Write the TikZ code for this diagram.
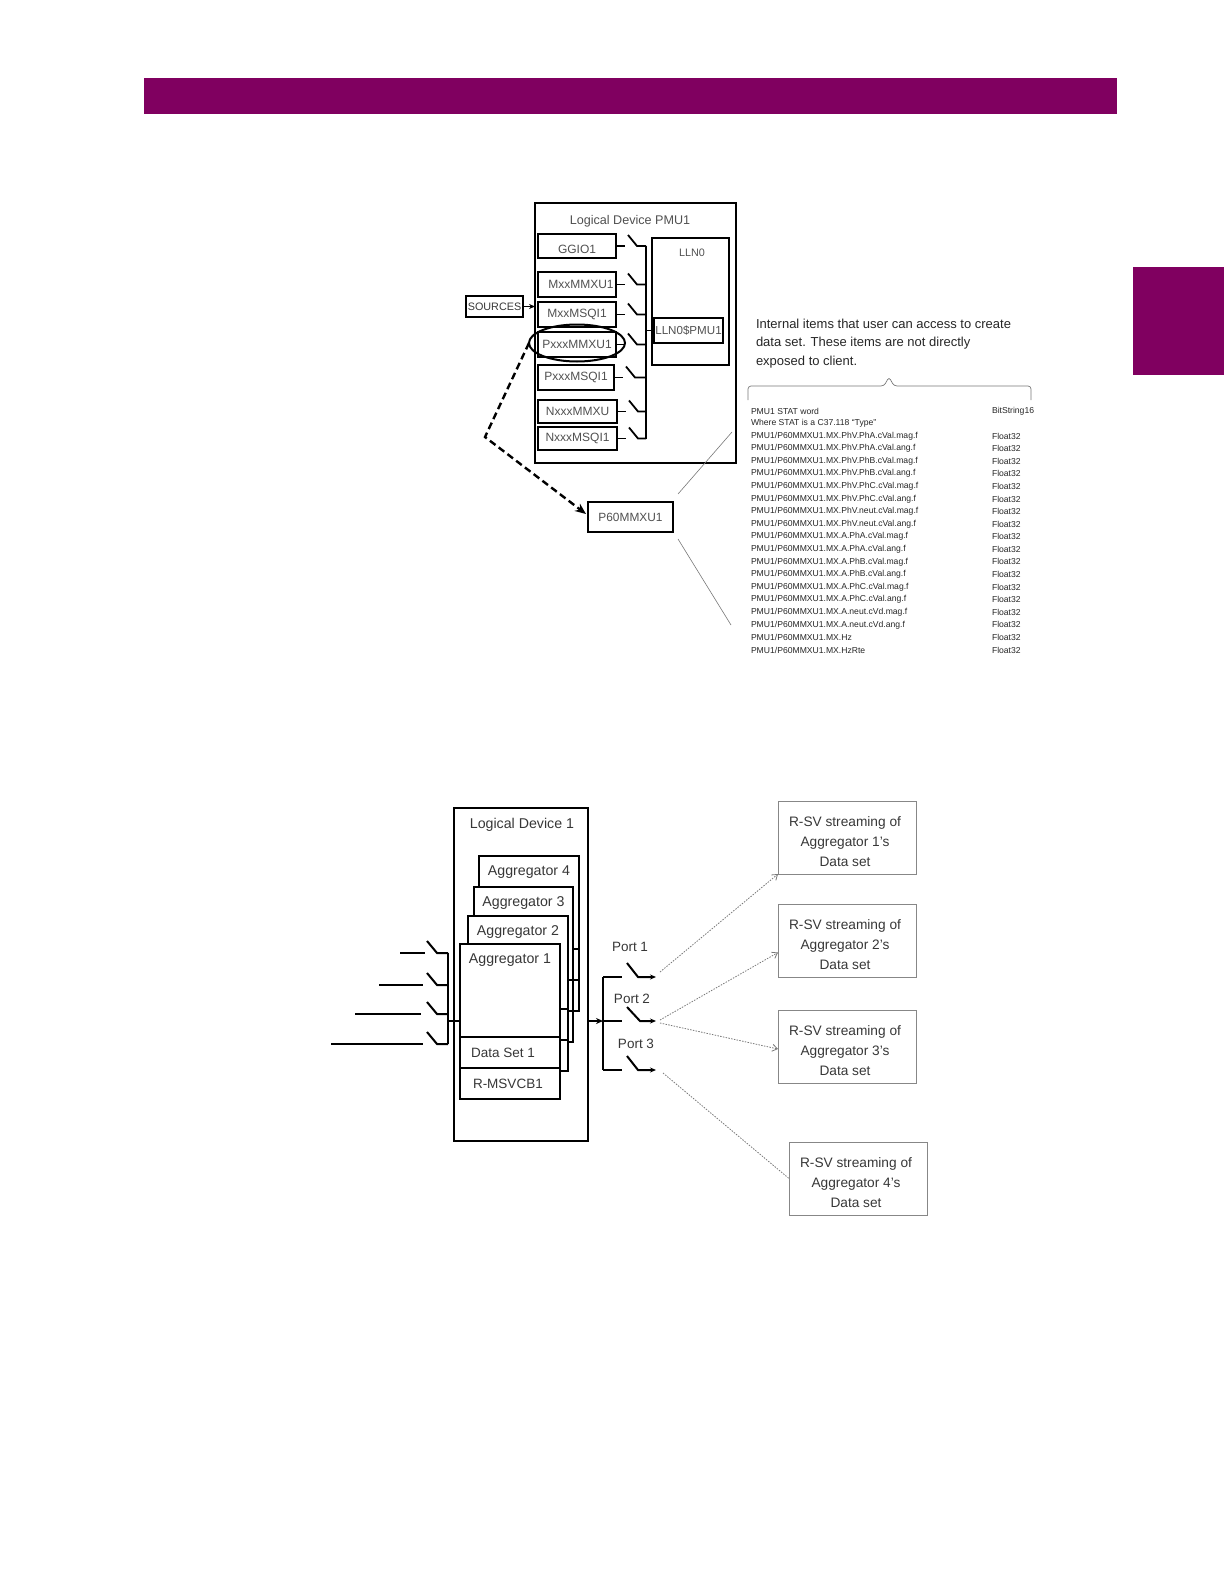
\documentclass[tikz,border=0pt]{standalone}
\usepackage{fontspec}
\setmainfont{Liberation Sans}
\usetikzlibrary{arrows.meta,shapes.geometric,calc}
\definecolor{gepurple}{RGB}{128,0,96}
\definecolor{txtgray}{RGB}{80,80,80}
\definecolor{dtxt}{RGB}{55,55,55}
\definecolor{boxgray}{RGB}{135,135,135}
\definecolor{linegray}{RGB}{120,120,120}
\begin{document}
\begin{tikzpicture}[x=1pt,y=-1pt,
  every node/.style={inner sep=0pt,outer sep=0pt},
  tbox/.style={draw,line width=1.6pt,anchor=north west,text=txtgray,font=\fontsize{12}{14}\selectfont},
  tlbl/.style={text=txtgray,font=\fontsize{11.5}{13}\selectfont},
  tab/.style={anchor=west,text=black!85,font=\fontsize{8.6}{10}\selectfont},
  note/.style={anchor=base west,text=black!85,font=\fontsize{13}{16}\selectfont},
  agg/.style={draw,fill=white,anchor=north west},
  blbl/.style={text=dtxt,font=\fontsize{13.5}{16}\selectfont},
  alb/.style={text=dtxt,font=\fontsize{14.2}{16}\selectfont},
  rsv/.style={draw=boxgray,line width=0.9pt,minimum width=138pt,minimum height=73pt},
  rsvt/.style={align=center,text=dtxt,font=\fontsize{13.7}{20}\selectfont},
  swl/.style={line width=1.8pt},
  bsw/.style={line width=2pt},
  dots/.style={draw=linegray,line width=0.8pt,dash pattern=on 1.5pt off 1.3pt},
  barb/.style={-{Straight Barb[length=5pt,width=7pt]}}
]
\useasboundingbox (0,0) rectangle (1224,1584);
% header bar and side tab
\fill[gepurple] (144,78) rectangle (1117,114);
\fill[gepurple] (1133,267) rectangle (1224,375);

% ---------------- top diagram ----------------
\node[draw,line width=2.4pt,anchor=north west,minimum width=201pt,minimum height=260pt] (pmu) at (535,203) {};
\node[tlbl,font=\fontsize{12.6}{15}\selectfont] (pmulbl) at (630,221) {Logical Device PMU1};

\node[tbox,minimum width=78pt,minimum height=24pt,text height=15pt,text depth=0pt] (ggio) at (538,234) {GGIO1};
\node[tbox,minimum width=78pt,minimum height=25pt] (mmxu) at (538,272) {\hspace*{8pt}MxxMMXU1};
\node[tbox,minimum width=78pt,minimum height=25pt] (msqi) at (538,302) {MxxMSQI1};
\node[tbox,minimum width=78pt,minimum height=25pt] (pmmxu) at (538,332) {PxxxMMXU1};
\node[tbox,minimum width=76pt,minimum height=25pt] (pmsqi) at (538,365) {PxxxMSQI1};
\node[tbox,minimum width=79pt,minimum height=23pt] (nmmxu) at (538,400) {NxxxMMXU};
\node[tbox,minimum width=79pt,minimum height=23pt] (nmsqi) at (538,427) {NxxxMSQI1};

\node[draw,line width=1.5pt,anchor=north west,minimum width=77pt,minimum height=127pt] (lln0) at (652,238) {};
\node[tlbl,font=\fontsize{10.8}{13}\selectfont] (lln0lbl) at (692,253) {LLN0};
\node[tbox,line width=1.5pt,minimum width=69pt,minimum height=25pt,font=\fontsize{11.6}{14}\selectfont] (llnpmu) at (654,318) {LLN0\$PMU1};

\coordinate (bus) at (646,0);
\foreach \n in {ggio,mmxu,msqi,pmmxu,pmsqi,nmmxu,nmsqi}{
  \draw[swl] (\n.east) -- ++(9,0);
  \draw[swl] ($(\n.east)+(12,-11)$) -- ++(9,11) -- (\n.east -| bus);
}
\draw[swl] (ggio.east -| bus) -- (nmsqi.east -| bus);
\draw[swl] (llnpmu.west -| bus) -- (llnpmu.west);

\node[draw,line width=1.8pt,anchor=north west,minimum width=57pt,minimum height=21pt,text=dtxt,font=\fontsize{10.8}{13}\selectfont] (src) at (466,296) {SOURCES};
\draw[line width=1.6pt,-{Stealth[length=6pt,width=5pt]}] (src.east) -- (src.east -| pmu.west);

\node[draw,ellipse,line width=2pt,minimum width=96pt,minimum height=37pt] (ell) at (577,343) {};
\node[draw,line width=1.8pt,anchor=north west,minimum width=85pt,minimum height=30pt,text=txtgray,font=\fontsize{11.9}{14}\selectfont] (p60) at (588,502) {P60MMXU1};
\coordinate (bend) at (485,437);
\draw[line width=2.4pt,dash pattern=on 7pt off 4pt,-{Stealth[length=11pt,width=9pt]}] (ell.west) -- (bend) -- ($(p60.west)+(-2,-3)$);

\coordinate (tabtop) at (732,432);
\coordinate (tabbot) at (731,625);
\draw[linegray,line width=0.6pt] ($(p60.north east)+(5,-8)$) -- (tabtop);
\draw[linegray,line width=0.6pt] ($(p60.south east)+(5,7)$) -- (tabbot);

% brace and note
\draw[linegray,line width=0.7pt,rounded corners=3pt] (748,400) -- (748,386) -- (884,386) -- (889,377) -- (894,386) -- (1031,386) -- (1031,400);
\node[note] (int1) at (756,328) {Internal items that user can access to create};
\node[note] (int2) at (756,346.5) {data set. These items are not directly};
\node[note] (int3) at (756,365) {exposed to client.};

% table
\node[tab] (h1) at (751,411) {PMU1 STAT word};
\node[tab] (h1t) at (992,411) {BitString16};
\node[tab] (h2) at (751,423.5) {Where STAT is a C37.118 “Type”};
\foreach \t [count=\i from 0] in {PhV.PhA.cVal.mag.f,PhV.PhA.cVal.ang.f,PhV.PhB.cVal.mag.f,PhV.PhB.cVal.ang.f,PhV.PhC.cVal.mag.f,PhV.PhC.cVal.ang.f,PhV.neut.cVal.mag.f,PhV.neut.cVal.ang.f,A.PhA.cVal.mag.f,A.PhA.cVal.ang.f,A.PhB.cVal.mag.f,A.PhB.cVal.ang.f,A.PhC.cVal.mag.f,A.PhC.cVal.ang.f,A.neut.cVd.mag.f,A.neut.cVd.ang.f,Hz,HzRte}{
  \node[tab] (r\i) at (751,436+\i*12.59) {PMU1/P60MMXU1.MX.\t};
  \node[tab] (f\i) at (992,436+\i*12.59) {Float32};
}

% ---------------- bottom diagram ----------------
\node[draw,line width=1.6pt,anchor=north west,minimum width=134pt,minimum height=333pt] (ld1) at (454,808) {};
\node[alb] (ld1lbl) at (522,825) {Logical Device 1};

\foreach \k/\l/\r/\t/\w in {4/479/579/856/1.5,3/474/573/887/1.6,2/468/568/916/2.1,1/460/560/944/2.2}{
  \pgfmathsetmacro\aggw{\r-\l}
  \node[agg,line width=\w pt,minimum width=\aggw pt,minimum height=93pt] (agg\k) at (\l,\t) {};
  \node[agg,line width=\w pt,minimum width=\aggw pt,minimum height=31pt] (ds\k) at (\l,\t+93) {};
  \node[agg,line width=\w pt,minimum width=\aggw pt,minimum height=31pt] (rm\k) at (\l,\t+124) {};
  \node[alb] (al\k) at (\l/2+\r/2,\t+16) {Aggregator \k};
}
\node[blbl,anchor=west] (dslbl) at (471,1053) {Data Set 1};
\node[blbl,anchor=west] (rmlbl) at (473,1084) {R-MSVCB1};

% inputs
\coordinate (inbus) at (448,0);
\foreach \s/\e/\y [count=\j] in {400/425/953,379/423/985,355/421/1014,331/423/1044}{
  \coordinate (in\j) at (\s,\y);
  \draw[bsw] (in\j) -- (\e,\y);
  \draw[bsw] (427,\y-12) -- (437,\y) -- (in\j -| inbus);
}
\draw[bsw] (in1 -| inbus) -- (in4 -| inbus);
\coordinate (injoin) at (448,1021);
\draw[bsw] (injoin) -- (injoin -| agg1.west);

% output bus and ports
\coordinate (outbus) at (603,1021);
\draw[bsw,-{Stealth[length=7pt,width=6pt]}] (injoin -| ld1.east) -- (outbus);
\coordinate (o1) at (603,977);
\coordinate (o2) at (603,1021);
\coordinate (o3) at (603,1070);
\draw[bsw] (o1) -- (o3);
\foreach \j/\bx in {1/638,2/640,3/638}{
  \draw[bsw] (o\j) -- ++(19,0);
  \draw[bsw,-{Stealth[length=6pt,width=5pt]}] ($(o\j)+(24,-14)$) -- ($(o\j -| 0,0)+(\bx,0)$) -- ($(o\j)+(53,0)$);
  \coordinate (pe\j) at ($(o\j)+(54,0)$);
}
\node[blbl] (pl1) at (630,947) {Port 1};
\node[blbl] (pl2) at (632,999) {Port 2};
\node[blbl] (pl3) at (636,1044) {Port 3};

% R-SV boxes
\node[rsv] (sv1) at (847,837.5) {};
\node[rsv] (sv2) at (847,940.5) {};
\node[rsv] (sv3) at (847,1047) {};
\node[rsv] (sv4) at (858,1178.5) {};
\node[rsvt] (sv1t) at ($(sv1.center)+(-2,4)$) {R-SV streaming of\\Aggregator 1’s\\Data set};
\node[rsvt] (sv2t) at ($(sv2.center)+(-2,4)$) {R-SV streaming of\\Aggregator 2’s\\Data set};
\node[rsvt] (sv3t) at ($(sv3.center)+(-2,4)$) {R-SV streaming of\\Aggregator 3’s\\Data set};
\node[rsvt] (sv4t) at ($(sv4.center)+(-2,4)$) {R-SV streaming of\\Aggregator 4’s\\Data set};

\draw[dots,barb] ($(pe1)+(3,-5)$) -- (sv1.south west);
\draw[dots,barb] ($(pe2)+(3,-1)$) -- ($(sv2.west)+(0,12)$);
\draw[dots,barb] ($(pe2)+(3,2)$) -- ($(sv3.west)+(0,2)$);
\draw[dots] ($(pe3)+(6,3)$) -- (sv4.west);
\end{tikzpicture}
\end{document}
